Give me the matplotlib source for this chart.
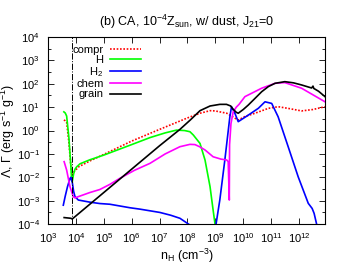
import numpy as np
import matplotlib.pyplot as plt
from matplotlib.ticker import FixedLocator, NullFormatter, LogFormatterSciNotation

plt.rcParams['font.family'] = ['Liberation Sans', 'DejaVu Sans']
plt.rcParams['mathtext.fontset'] = 'custom'
plt.rcParams['mathtext.rm'] = 'Liberation Sans'
plt.rcParams['mathtext.it'] = 'Liberation Sans:italic'

# log10 n_H and log10 of rate
compr_x = [3.57, 3.62, 3.67, 3.75, 3.82, 3.86, 3.90, 3.97, 4.10, 4.50, 5.00, 6.00, 7.00, 8.00, 8.45, 8.81,
           8.99, 9.41, 9.70, 9.82, 10.06, 10.42, 10.90, 11.25, 11.60, 12.09, 12.50, 12.93]
compr_y = [0.45, 0.42, 0.35, -0.50, -1.50, -1.90, -1.80, -1.72, -1.55, -1.30, -1.02, -0.45, 0.05, 0.54, 0.74, 0.85,
           0.84, 0.74, 0.53, 0.45, 0.60, 0.74, 0.95, 1.02, 0.95, 0.84, 0.90, 1.02]

h_x = [3.57, 3.62, 3.67, 3.75, 3.82, 3.85, 3.87, 3.92, 3.97, 4.03, 4.15, 4.50, 5.00, 6.00, 6.66, 7.20, 7.61,
       7.90, 8.09, 8.21, 8.45, 8.63, 8.81, 8.92, 9.00]
h_y = [0.80, 0.75, 0.62, -0.30, -1.50, -2.12, -2.19, -1.85, -1.65, -1.55, -1.42, -1.25, -1.05, -0.60, -0.30,
       -0.10, 0.02, 0.00, -0.05, -0.19, -0.55, -1.26, -2.40, -3.40, -4.10]

h2_x = [3.55, 3.62, 3.70, 3.79, 3.82, 3.87, 3.92, 3.97, 4.09, 4.50, 4.86, 5.22, 5.94, 6.30, 7.01, 7.40, 7.73,
        8.09, 8.30, 8.90, 9.02, 9.16, 9.34, 9.52, 9.58, 9.70, 9.82, 10.18, 10.54, 10.66, 10.78, 11.02, 11.25,
        11.61, 11.97, 12.33, 12.47, 12.54, 12.63]
h2_y = [-3.19, -2.80, -2.40, -2.05, -2.00, -2.20, -2.60, -2.83, -2.97, -3.06, -3.12, -3.15, -3.30, -3.36, -3.50,
        -3.62, -3.75, -4.04, -4.40, -4.40, -4.04, -2.97, -1.26, 0.59, 1.02, 0.74, 0.38, 0.66, 0.95, 1.09, 1.23,
        1.16, 0.59, -0.69, -1.98, -3.11, -3.33, -3.54, -4.00]

chem_x = [3.58, 3.67, 3.79, 3.85, 3.91, 3.97, 4.10, 4.50, 4.86, 5.22, 5.58, 6.10, 6.66, 7.20, 7.73, 8.09, 8.27,
          8.45, 8.63, 8.92, 9.20, 9.41, 9.46, 9.50, 9.51, 9.56, 9.64, 9.75, 9.85, 10.06, 10.66, 11.14, 11.49,
          12.09, 12.93]
chem_y = [-1.33, -1.69, -2.40, -2.62, -2.83, -2.88, -2.82, -2.65, -2.52, -2.30, -2.04, -1.70, -1.40, -1.00,
          -0.69, -0.59, -0.60, -0.70, -0.83, -1.12, -1.22, -1.26, -1.33, -2.97, -0.60, 0.30, 0.80, 1.00, 1.12,
          1.45, 1.81, 2.02, 2.05, 1.81, 1.23]

grain_x = [3.58, 3.82, 3.87, 4.00, 5.00, 6.00, 7.00, 7.73, 8.10, 8.45, 8.81, 9.16, 9.40, 9.55, 9.63, 9.75, 9.82,
           10.00, 10.18, 10.40, 10.66, 10.90, 11.14, 11.49, 11.80, 12.09, 12.45, 12.50, 12.53, 12.70, 12.93]
grain_y = [-3.72, -3.75, -3.78, -3.65, -2.65, -1.65, -0.65, 0.05, 0.45, 0.85, 1.05, 1.12, 1.12, 1.05, 0.92,
           0.78, 0.74, 0.90, 1.09, 1.35, 1.66, 1.88, 2.02, 2.09, 2.04, 1.95, 1.82, 1.90, 1.80, 1.68, 1.45]

n_mark = 7.2e3
xtick_exp = list(range(3, 13))
ytick_exp = list(range(-4, 5))

fig = plt.figure(figsize=(3.45, 2.72), dpi=100)
ax = fig.add_axes([0.139, 0.176, 0.803, 0.688])

lw = 1.2
ax.plot(10**np.array(compr_x), 10**np.array(compr_y), color='#ff0000', ls=(0, (1, 1)), lw=lw, label='compr')
ax.plot(10**np.array(h_x), 10**np.array(h_y), color='#00ff00', lw=lw, label='H')
ax.plot(10**np.array(h2_x), 10**np.array(h2_y), color='#0000ff', lw=lw, label='H$_2$')
ax.plot(10**np.array(chem_x), 10**np.array(chem_y), color='#ff00ff', lw=lw, label='chem')
ax.plot(10**np.array(grain_x), 10**np.array(grain_y), color='black', lw=lw, label='grain')
ax.axvline(n_mark, color='black', lw=0.7, ls='-.')

ax.set_xscale('log')
ax.set_yscale('log')
ax.set_xlim(1e3, 10**12.93)
ax.set_ylim(1e-4, 1e4)
ax.xaxis.set_major_locator(FixedLocator([10.0**e for e in xtick_exp]))
ax.xaxis.set_minor_locator(FixedLocator([]))
ax.yaxis.set_major_locator(FixedLocator([10.0**e for e in ytick_exp]))
ax.yaxis.set_minor_locator(FixedLocator([10.0**(e + 0.5) for e in ytick_exp[:-1]]))
ax.xaxis.set_major_formatter(LogFormatterSciNotation())
ax.yaxis.set_major_formatter(LogFormatterSciNotation())
ax.yaxis.set_minor_formatter(NullFormatter())
ax.tick_params(which='both', direction='in', top=True, right=True, labelsize=8)
ax.tick_params(axis='x', pad=5)
ax.tick_params(axis='y', pad=6)
ax.tick_params(which='major', length=4, width=0.6)
ax.tick_params(which='minor', length=2, width=0.6)
for s in ax.spines.values():
    s.set_linewidth(0.8)

ax.set_title('(b) CA, 10$^{-4}$Z$_{\\rm sun}$, w/ dust, J$_{21}$=0', fontsize=9, pad=8)
ax.set_xlabel('n$_{\\rm H}$ (cm$^{-3}$)', fontsize=9)
ax.set_ylabel('Λ, Γ (erg s$^{-1}$ g$^{-1}$)', fontsize=9)
ax.xaxis.set_label_coords(0.5, -0.12)
ax.yaxis.set_label_coords(-0.11, 0.5)

ax.legend(loc='upper left', bbox_to_anchor=(0.06, 1.0), frameon=False, markerfirst=False,
          fontsize=8, handlelength=2.8, handletextpad=0.6, labelspacing=0.02, borderaxespad=0.3)

fig.savefig('out.png', dpi=100)
